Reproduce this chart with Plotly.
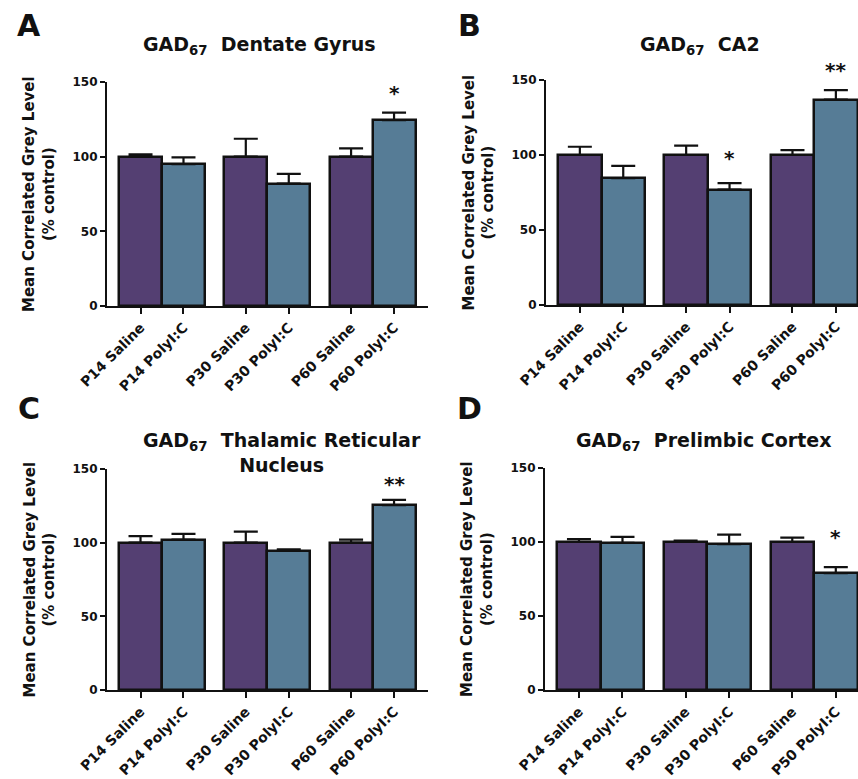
import plotly.graph_objects as go

# ---------------- data ----------------
categories_std = ["P14 Saline", "P14 PolyI:C", "P30 Saline", "P30 PolyI:C", "P60 Saline", "P60 PolyI:C"]
categories_d = ["P14 Saline", "P14 PolyI:C", "P30 Saline", "P30 PolyI:C", "P60 Saline", "P50 PolyI:C"]

dentate_vals = [100, 95, 100, 82, 100, 124.5]
dentate_err = [1.5, 4.5, 12, 6.5, 5.5, 5]

ca2_vals = [100, 84.5, 100, 77, 100, 137]
ca2_err = [5.5, 8.3, 6.2, 4.2, 3.3, 6.2]

trn_vals = [100, 102, 100, 94.5, 100, 125.5]
trn_err = [4.5, 4, 7.5, 1, 2, 3.5]

plc_vals = [100, 99.5, 100, 98.5, 100, 79]
plc_err = [2, 4, 1, 6.5, 3, 4]

y_ticks = [0, 50, 100, 150]

# significance markers: (bar index, label, pixel offset above error bar)
dentate_sig = [(5, "*", 21)]
ca2_sig = [(3, "*", 26), (5, "**", 21)]
trn_sig = [(5, "**", 17)]
plc_sig = [(5, "*", 31)]

# ---------------- layout helpers ----------------
W, H = 858, 779
def px(x):
    return x / W
def py(y):
    return 1 - y / H

PURPLE = "#543F72"
BLUE = "#567C96"
colors = [PURPLE, BLUE] * 3
FONT = "DejaVu Sans"

def positions(n):
    # bars touch within an age group; gap between groups
    return [(i // 2) * 2.45 + (i % 2) for i in range(n)]

panels = [
    dict(letter="A", title="GAD<sub>67</sub>&nbsp; Dentate Gyrus", vals=dentate_vals, err=dentate_err,
         cats=categories_std, sig=dentate_sig,
         xdom=[px(107), px(428)], ydom=[py(306), py(82)], xr=[-0.78, 6.69],
         title_xy=(259, 46), letter_xy=(29, 25)),
    dict(letter="B", title="GAD<sub>67</sub>&nbsp; CA2", vals=ca2_vals, err=ca2_err,
         cats=categories_std, sig=ca2_sig,
         xdom=[px(546), 1.0], ydom=[py(305), py(80)], xr=[-0.78, 6.41],
         title_xy=(700, 45), letter_xy=(469, 25)),
    dict(letter="C", title="GAD<sub>67</sub>&nbsp; Thalamic Reticular<br>Nucleus", vals=trn_vals, err=trn_err,
         cats=categories_std, sig=trn_sig,
         xdom=[px(107), px(428)], ydom=[py(690), py(469)], xr=[-0.78, 6.69],
         title_xy=(282, 453), letter_xy=(29, 408)),
    dict(letter="D", title="GAD<sub>67</sub>&nbsp; Prelimbic Cortex", vals=plc_vals, err=plc_err,
         cats=categories_d, sig=plc_sig,
         xdom=[px(545), 1.0], ydom=[py(690), py(468)], xr=[-0.78, 6.41],
         title_xy=(703, 441), letter_xy=(469, 408)),
]

fig = go.Figure()
annotations = []

for i, p in enumerate(panels):
    n = i + 1
    xa = "x" if n == 1 else f"x{n}"
    ya = "y" if n == 1 else f"y{n}"
    xs = positions(len(p["vals"]))
    fig.add_trace(go.Bar(
        x=xs, y=p["vals"], width=1.0,
        marker=dict(color=colors, line=dict(color="#111111", width=2.5)),
        error_y=dict(type="data", symmetric=False, array=p["err"],
                     arrayminus=[0] * len(p["err"]),
                     color="#111111", thickness=2.2, width=12),
        xaxis=xa, yaxis=ya, showlegend=False, cliponaxis=False,
    ))
    axis_common = dict(showline=True, linecolor="#111111", linewidth=2.2,
                       ticks="outside", tickcolor="#111111", tickwidth=2,
                       showgrid=False, zeroline=False, automargin=False)
    fig.layout[f"xaxis{'' if n == 1 else n}"] = dict(
        domain=p["xdom"], range=p["xr"], anchor=ya,
        tickvals=xs, ticktext=p["cats"], tickangle=-45, ticklen=6,
        tickfont=dict(family=FONT, size=14, color="#111111", weight="bold"),
        **axis_common)
    fig.layout[f"yaxis{'' if n == 1 else n}"] = dict(
        domain=p["ydom"], range=[0, 150], anchor=xa,
        tickvals=y_ticks, ticklen=5,
        tickfont=dict(family=FONT, size=12, color="#111111", weight="bold"),
        **axis_common)

    # panel letter
    lx, ly = p["letter_xy"]
    annotations.append(dict(text=p["letter"], xref="paper", yref="paper",
                            x=px(lx), y=py(ly), xanchor="center", yanchor="middle",
                            showarrow=False,
                            font=dict(family=FONT, size=30, color="#111111", weight="bold")))
    # title
    tx, ty = p["title_xy"]
    annotations.append(dict(text=p["title"], xref="paper", yref="paper",
                            x=px(tx), y=py(ty), xanchor="center", yanchor="middle",
                            showarrow=False,
                            font=dict(family=FONT, size=19, color="#111111", weight="bold")))
    # y-axis title
    ycenter = (p["ydom"][0] + p["ydom"][1]) / 2
    xleft = p["xdom"][0] - px(107 - 39)
    annotations.append(dict(text="Mean Correlated Grey Level<br>(% control)",
                            xref="paper", yref="paper", x=xleft, y=ycenter,
                            xanchor="center", yanchor="middle", textangle=-90,
                            showarrow=False,
                            font=dict(family=FONT, size=15, color="#111111", weight="bold")))
    # significance stars
    for idx, label, off in p["sig"]:
        annotations.append(dict(text=label, xref=xa, yref=ya,
                                x=xs[idx], y=p["vals"][idx] + p["err"][idx],
                                xanchor="center", yanchor="middle", yshift=off - 1,
                                showarrow=False,
                                font=dict(family=FONT, size=20, color="#111111", weight="bold")))

fig.update_layout(
    width=W, height=H,
    margin=dict(l=0, r=0, t=0, b=0, autoexpand=False),
    paper_bgcolor="white", plot_bgcolor="white",
    annotations=annotations,
    bargap=0,
)

fig.write_html("out.html",
               config={"displayModeBar": False},
               post_script="document.body.style.margin='0';document.body.style.overflow='hidden';")
